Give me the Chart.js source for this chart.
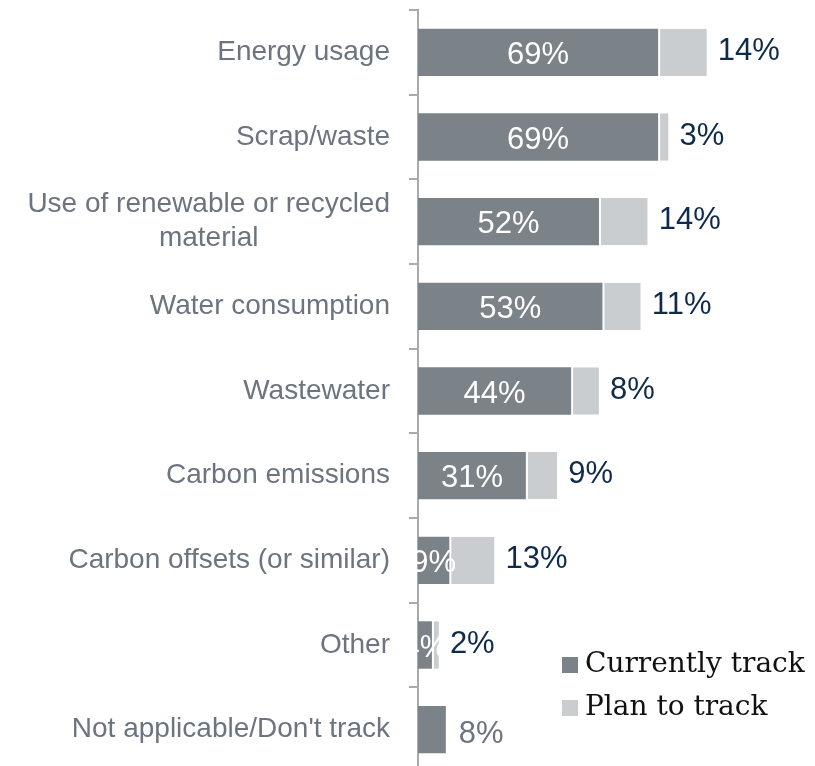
<!DOCTYPE html>
<html>
<head>
<meta charset="utf-8">
<script src="https://cdn.jsdelivr.net/npm/chart.js"></script>
<style>
  html, body { margin: 0; padding: 0; background: #fff; overflow: hidden; }
  #wrap { width: 815px; height: 772px; position: relative; }
</style>
</head>
<body>
<div id="wrap"><canvas id="myChart"></canvas></div>
<script>
// data
const categories = [
    'Energy usage',
    'Scrap/waste',
    ['Use of renewable or recycled', 'material'],
    'Water consumption',
    'Wastewater',
    'Carbon emissions',
    'Carbon offsets (or similar)',
    'Other',
    "Not applicable/Don't track"
];
const currentTrack = [69, 69, 52, 53, 44, 31, 9, 4, 8];
const planToTrack = [14, 3, 14, 11, 8, 9, 13, 2, 0];
const seriesNames = ['Currently track', 'Plan to track'];

const darkGray = '#7b8288';
const lightGray = '#c9cdd0';
const navy = '#0e2b4e';
const labelGray = '#6b7480';

// category labels: right aligned block, wrapped lines centered inside it
const categoryLabels = {
    id: 'categoryLabels',
    afterDraw(chart) {
        const ctx = chart.ctx;
        const yScale = chart.scales.y;
        const rightX = chart.chartArea.left - 28;
        const lineH = 34;
        ctx.save();
        ctx.font = '28px "Liberation Sans", Arial, sans-serif';
        ctx.fillStyle = labelGray;
        ctx.textBaseline = 'middle';
        ctx.textAlign = 'center';
        chart.data.labels.forEach((lab, i) => {
            const lines = Array.isArray(lab) ? lab : [lab];
            const w = Math.max(...lines.map(l => ctx.measureText(l).width));
            const cx = rightX - w / 2;
            const cy = yScale.getPixelForTick(i);
            lines.forEach((l, k) => {
                ctx.fillText(l, cx, cy + (k - (lines.length - 1) / 2) * lineH);
            });
        });
        ctx.restore();
    }
};

// labels on bars: white inside dark bar, navy after the stack
const valueLabels = {
    id: 'valueLabels',
    afterDatasetsDraw(chart) {
        const ctx = chart.ctx;
        const cur = chart.getDatasetMeta(0);
        const plan = chart.getDatasetMeta(1);
        ctx.save();
        ctx.font = '31px "Liberation Sans", Arial, sans-serif';
        ctx.textBaseline = 'middle';
        currentTrack.forEach((v, i) => {
            const barC = cur.data[i];
            const barP = plan.data[i];
            if (planToTrack[i] > 0) {
                ctx.fillStyle = '#ffffff';
                ctx.textAlign = 'center';
                ctx.fillText(v + '%', (barC.x + barC.base) / 2, barC.y + 3);
                ctx.fillStyle = navy;
                ctx.textAlign = 'left';
                ctx.fillText(planToTrack[i] + '%', barP.x + 11, barP.y - 1);
            } else {
                ctx.fillStyle = labelGray;
                ctx.textAlign = 'left';
                ctx.fillText(v + '%', barC.x + 13, barC.y + 5);
            }
        });
        ctx.restore();
    }
};

// legend drawn inside the plot, bottom right
const insideLegend = {
    id: 'insideLegend',
    afterDraw(chart) {
        const ctx = chart.ctx;
        const colors = [darkGray, lightGray];
        ctx.save();
        ctx.font = '28px "DejaVu Serif", serif';
        ctx.textBaseline = 'middle';
        ctx.textAlign = 'left';
        seriesNames.forEach((name, i) => {
            const y = 665 + i * 43;
            ctx.fillStyle = colors[i];
            ctx.fillRect(562, y - 8, 16, 16);
            ctx.fillStyle = '#111111';
            ctx.fillText(name, 585, y);
        });
        ctx.restore();
    }
};

const ctx = document.getElementById('myChart').getContext('2d');
new Chart(ctx, {
    type: 'bar',
    data: {
        labels: categories,
        datasets: [{
            label: seriesNames[0],
            data: currentTrack,
            backgroundColor: darkGray,
            borderWidth: 0
        }, {
            label: seriesNames[1],
            data: planToTrack,
            backgroundColor: lightGray,
            borderColor: '#ffffff',
            borderWidth: { left: 2, right: 0, top: 0, bottom: 0 },
            borderSkipped: false
        }]
    },
    options: {
        indexAxis: 'y',
        responsive: true,
        maintainAspectRatio: false,
        animation: false,
        datasets: {
            bar: { barPercentage: 0.56, categoryPercentage: 1 }
        },
        layout: {
            padding: { left: 0, right: 49, top: 10, bottom: 0 }
        },
        plugins: {
            legend: { display: false },
            tooltip: { enabled: false }
        },
        scales: {
            x: {
                stacked: true,
                display: false,
                min: 0,
                max: 100
            },
            y: {
                stacked: true,
                afterFit(scale) { scale.width = 418; },
                grid: {
                    drawOnChartArea: false,
                    offset: true,
                    tickLength: 9,
                    color: '#aaaaaa',
                    lineWidth: 2
                },
                border: { display: true, color: '#aaaaaa', width: 2 },
                ticks: { display: false }
            }
        }
    },
    plugins: [categoryLabels, valueLabels, insideLegend]
});
</script>
</body>
</html>
